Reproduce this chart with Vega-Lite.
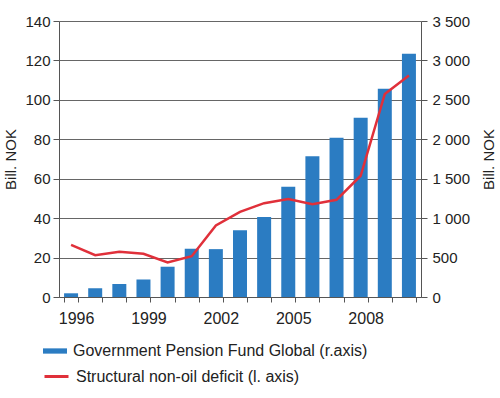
{
  "$schema": "https://vega.github.io/schema/vega-lite/v6.json",
  "width": 362,
  "height": 276,
  "autosize": "none",
  "padding": {"left": 59, "top": 21, "right": 79, "bottom": 101},
  "background": "white",
  "config": {
    "view": {"stroke": null},
    "font": "Liberation Sans",
    "axis": {"labelFont": "Liberation Sans", "labelFontSize": 15, "labelColor": "#222", "titleFont": "Liberation Sans", "titleFontSize": 15, "titleFontWeight": "normal", "titleColor": "#222", "domainColor": "#555", "tickColor": "#555", "gridColor": "#666"},
    "legend": {"labelFont": "Liberation Sans", "labelFontSize": 16, "labelColor": "#222", "labelLimit": 0}
  },
  "data": {"values": [
    {"year": "1996", "gpfg": 47, "deficit": 26.4},
    {"year": "1997", "gpfg": 110, "deficit": 21.2},
    {"year": "1998", "gpfg": 165, "deficit": 23.0},
    {"year": "1999", "gpfg": 222, "deficit": 21.9},
    {"year": "2000", "gpfg": 384, "deficit": 17.5},
    {"year": "2001", "gpfg": 612, "deficit": 20.7},
    {"year": "2002", "gpfg": 607, "deficit": 36.3},
    {"year": "2003", "gpfg": 847, "deficit": 43.2},
    {"year": "2004", "gpfg": 1014, "deficit": 47.6},
    {"year": "2005", "gpfg": 1397, "deficit": 49.7},
    {"year": "2006", "gpfg": 1785, "deficit": 47.1},
    {"year": "2007", "gpfg": 2020, "deficit": 49.3},
    {"year": "2008", "gpfg": 2274, "deficit": 61.5},
    {"year": "2009", "gpfg": 2640, "deficit": 103},
    {"year": "2010", "gpfg": 3085, "deficit": 112.4}
  ]},
  "encoding": {
    "x": {
      "field": "year", "type": "ordinal",
      "scale": {"paddingInner": 0.42},
      "axis": {
        "title": null, "labelAngle": 0, "tickBand": "extent", "tickSize": 5,
        "labelAlign": "center", "labelOffset": 5, "labelPadding": 8, "labelFontSize": 16,
        "labelExpr": "indexof(['1996','1999','2002','2005','2008'], datum.label) >= 0 ? datum.label : ''"
      }
    }
  },
  "layer": [
    {
      "mark": {"type": "bar", "color": "#2b7cc2"},
      "encoding": {
        "y": {
          "field": "gpfg", "type": "quantitative",
          "scale": {"domain": [0, 3500]},
          "axis": {
            "orient": "right", "title": "Bill. NOK", "titleAngle": 270,
            "titleX": 67, "titleY": 138, "titleAlign": "center", "titleBaseline": "middle",
            "values": [0, 500, 1000, 1500, 2000, 2500, 3000, 3500],
            "grid": false, "tickSize": 6, "labelPadding": 5,
            "labelExpr": "replace(format(datum.value, ','), ',', ' ')"
          }
        },
        "color": {
          "datum": "Government Pension Fund Global (r.axis)",
          "type": "nominal",
          "scale": {"range": ["#2b7cc2"]},
          "legend": {
            "title": null, "orient": "none", "legendX": -16, "legendY": 318,
            "symbolType": "M-1,-0.22H1V0.22H-1Z", "symbolSize": 576,
            "symbolStrokeWidth": 0, "labelOffset": 6, "padding": 0
          }
        }
      }
    },
    {
      "mark": {"type": "line", "color": "#e0303a", "strokeWidth": 2.5},
      "encoding": {
        "y": {
          "field": "deficit", "type": "quantitative",
          "scale": {"domain": [0, 140]},
          "axis": {
            "orient": "left", "title": "Bill. NOK",
            "titleX": -49, "titleY": 138, "titleAlign": "center", "titleBaseline": "middle",
            "values": [0, 20, 40, 60, 80, 100, 120, 140],
            "grid": true, "tickSize": 6, "labelPadding": 3
          }
        },
        "stroke": {
          "datum": "Structural non-oil deficit (l. axis)",
          "type": "nominal",
          "scale": {"range": ["#e0303a"]},
          "legend": {
            "title": null, "orient": "none", "legendX": -16, "legendY": 342,
            "symbolType": "stroke", "symbolSize": 576, "symbolStrokeWidth": 3,
            "labelOffset": 6, "padding": 0
          }
        }
      }
    }
  ],
  "resolve": {"scale": {"y": "independent"}}
}
